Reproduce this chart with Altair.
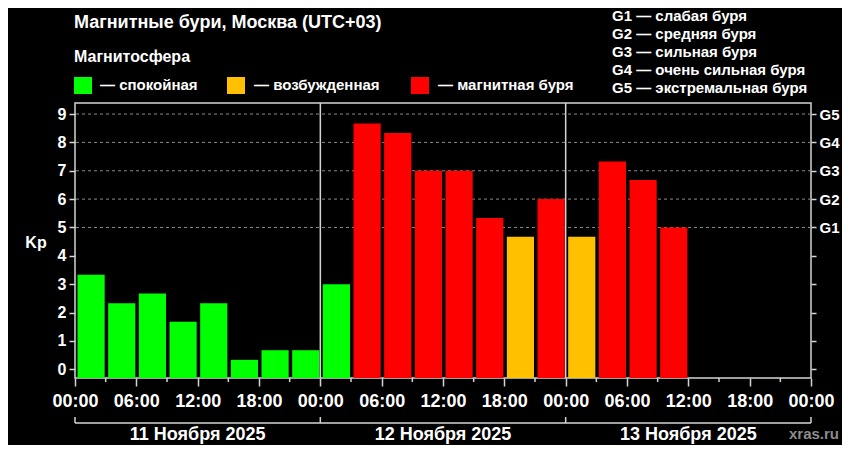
import altair as alt
import pandas as pd

# ---- data ----
kp_values = [3.33, 2.33, 2.67, 1.67, 2.33, 0.33, 0.67, 0.67,
             3.0, 8.67, 8.33, 7.0, 7.0, 5.33, 4.67, 6.0,
             4.67, 7.33, 6.67, 5.0]
kp_levels = (["спокойная"] * 9 + ["магнитная буря"] * 5 +
             ["возбужденная", "магнитная буря", "возбужденная"] +
             ["магнитная буря"] * 3)
level_names = ["спокойная", "возбужденная", "магнитная буря"]
level_colors = ["#00ff00", "#ffc000", "#ff0000"]
day_labels = ["11 Ноября 2025", "12 Ноября 2025", "13 Ноября 2025"]
day_bounds = [0, 24, 48, 72]
g_levels = ["G1 — слабая буря", "G2 — средняя буря", "G3 — сильная буря",
            "G4 — очень сильная буря", "G5 — экстремальная буря"]
y_ticks = list(range(0, 10))
grid_values = [5, 6, 7, 8, 9]
x_major = list(range(0, 73, 6))
x_minor = list(range(3, 72, 6))

FONT = "Liberation Sans"
W, H = 736, 275
YMIN, YMAX = -0.31, 9.39
BORDER = "#d4d4d4"

bars = pd.DataFrame({
    "start": [3 * i for i in range(len(kp_values))],
    "end": [3 * i + 3 for i in range(len(kp_values))],
    "kp": kp_values,
    "level": kp_levels,
})

xscale = alt.Scale(domain=[0, 72], nice=False, zero=False)
yscale = alt.Scale(domain=[YMIN, YMAX], nice=False, zero=False)

x_label_expr = ("(datum.value % 24 < 10 ? '0' : '') + (datum.value % 24) + ':00'")
x_axis = alt.Axis(
    values=x_major, labelExpr=x_label_expr, title=None, domain=False,
    grid=False, tickSize=8, tickColor=BORDER, tickWidth=1.5,
    labelColor="white", labelFont=FONT, labelFontSize=18,
    labelFontWeight="bold", labelPadding=6, labelFlush=False,
    labelOverlap=False, labelBound=False)


def X(field):
    return alt.X(field, scale=xscale, axis=x_axis)


bar_layer = alt.Chart(bars).mark_bar(xOffset=2.5, x2Offset=-1).encode(
    x=X("start:Q"),
    x2="end:Q",
    y=alt.Y("kp:Q", scale=yscale, axis=alt.Axis(
        values=y_ticks, title=None, domain=False, grid=False, orient="left",
        tickSize=6, tickColor=BORDER, tickWidth=1.5, labelColor="white",
        labelFont=FONT, labelFontSize=16, labelFontWeight="bold",
        labelPadding=3)),
    y2=alt.datum(YMIN),
    color=alt.Color("level:N", scale=alt.Scale(domain=level_names,
                                                range=level_colors),
                    legend=None),
)

grid_layer = alt.Chart(pd.DataFrame({"g": grid_values})).mark_rule(
    color="#8a8a8a", strokeDash=[3, 3], strokeWidth=1).encode(
    y=alt.Y("g:Q", scale=yscale, axis=alt.Axis(
        values=y_ticks, title=None, domain=False, grid=False, orient="right",
        labelExpr="datum.value >= 5 ? 'G' + (datum.value - 4) : ''",
        tickSize=5, tickColor=BORDER, tickWidth=1.5, labelColor="white",
        labelFont=FONT, labelFontSize=15, labelFontWeight="bold",
        labelPadding=3)),
)

divider_layer = alt.Chart(pd.DataFrame({"h": day_bounds[1:3]})).mark_rule(
    color=BORDER, strokeWidth=1.5).encode(x=X("h:Q"))

minor_ticks = alt.Chart(pd.DataFrame({"h": x_minor})).mark_rule(
    color=BORDER, strokeWidth=1.5).encode(
    x=X("h:Q"), y=alt.value(H), y2=alt.value(H + 4))

bracket_ticks = alt.Chart(pd.DataFrame({"h": day_bounds})).mark_rule(
    color=BORDER, strokeWidth=1.5).encode(
    x=X("h:Q"), y=alt.value(H + 39), y2=alt.value(H + 45))

bracket_line = alt.Chart(pd.DataFrame({"a": [day_bounds[0]],
                                       "b": [day_bounds[-1]]})).mark_rule(
    color=BORDER, strokeWidth=1.5).encode(
    x=X("a:Q"), x2="b:Q", y=alt.value(H + 45))

day_text = alt.Chart(pd.DataFrame({
    "c": [12, 36, 60], "t": day_labels})).mark_text(
    font=FONT, fontSize=18, fontWeight="bold", color="white",
    baseline="alphabetic", align="center").encode(
    x=X("c:Q"), text="t:N", y=alt.value(H + 62))


def txt(text, x, y, size, color="white", align="left", weight="bold"):
    return alt.Chart(pd.DataFrame({"t": [text]})).mark_text(
        font=FONT, fontSize=size, fontWeight=weight, color=color,
        align=align, baseline="alphabetic").encode(
        text="t:N", x=alt.value(x), y=alt.value(y))


def square(x, y, color):
    return alt.Chart(pd.DataFrame({"s": [0]})).mark_rect(color=color).encode(
        x=alt.value(x), x2=alt.value(x + 18),
        y=alt.value(y), y2=alt.value(y + 17))


texts = [
    txt("Магнитные бури, Москва (UTC+03)", -1, -75, 18),
    txt("Магнитосфера", -1, -41.5, 16),
    txt("— спокойная", 25, -13.5, 15),
    txt("— возбужденная", 179, -13.5, 15),
    txt("— магнитная буря", 363, -13.5, 15),
    txt("Kp", -39, 144.5, 16, align="center"),
    txt("xras.ru", 739, H + 61, 15, color="#8c8c8c", align="center"),
    square(-1, -26, level_colors[0]),
    square(152, -26, level_colors[1]),
    square(336, -26, level_colors[2]),
]
for i, g in enumerate(g_levels):
    texts.append(txt(g, 537, -82.5 + 18 * i, 15))

chart = alt.layer(
    grid_layer, bar_layer, divider_layer, minor_ticks, bracket_ticks,
    bracket_line, day_text, *texts
).resolve_scale(y="independent").properties(
    width=W, height=H,
    padding={"left": 67, "top": 95, "right": 31, "bottom": 67},
    autosize=alt.AutoSizeParams(type="none"),
).configure(
    background="#000000",
).configure_view(
    stroke=BORDER, strokeWidth=1.5,
)

chart.save("out.html", embed_options={"renderer": "svg", "actions": False})
